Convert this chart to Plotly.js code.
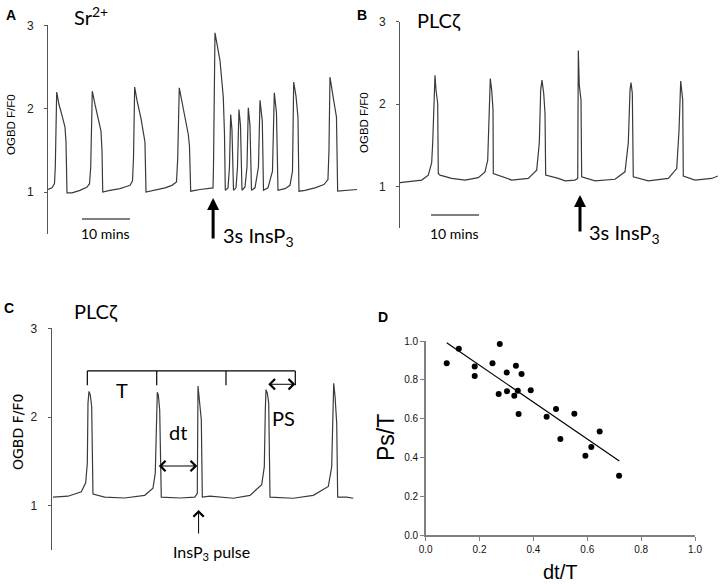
<!DOCTYPE html>
<html>
<head>
<meta charset="utf-8">
<script src="https://cdn.plot.ly/plotly-3.0.1.min.js"></script>
<style>html,body{margin:0;padding:0;background:#fff;}#chart{width:721px;height:584px;}</style>
</head>
<body>
<div id="chart"></div>
<script>
// ---------- Data (time in minutes, fluorescence as OGBD F/F0) ----------
const tA = [0,0.83,1.35,1.52,1.81,2.29,2.92,3.54,3.75,3.96,5.0,6.67,8.13,8.65,8.9,9.23,9.79,10.42,11.04,11.25,11.4,12.92,15,16.04,17.08,17.6,17.81,18.06,18.54,19.38,20,20.2,20.42,22.29,24.38,25.83,26.77,27.02,27.35,27.92,28.75,29.23,29.48,29.73,31.67,34.38,34.48,34.79,35.83,36.52,36.77,36.94,37.5,37.81,38.06,38.33,38.65,39.17,39.48,39.79,40.1,40.42,41.04,41.46,41.73,42.08,42.4,43.13,43.85,44.17,44.65,44.9,45.83,46.77,47.15,47.6,47.92,49.38,50.42,50.94,51.19,51.67,52.08,52.29,53.54,55.63,57.5,58.33,58.54,58.75,59.38,60.1,60.35,61.88,64.38];
const fA = [1.03,1.05,1.1,1.3,2.20,2.05,1.92,1.78,1.6,0.99,0.99,1.02,1.06,1.1,1.3,2.21,2.05,1.9,1.73,1.5,1.0,1.02,1.04,1.06,1.08,1.13,1.4,2.26,2.1,1.88,1.7,1.6,1.0,1.02,1.05,1.08,1.12,1.4,2.25,2.08,1.85,1.69,1.55,1.01,1.03,1.05,1.3,2.91,2.58,2.14,1.7,1.02,1.05,1.3,1.93,1.75,1.02,1.05,1.3,1.99,1.8,1.02,1.06,1.3,2.01,1.8,1.02,1.05,1.3,2.10,1.85,1.02,1.05,1.25,2.19,1.95,1.02,1.04,1.08,1.25,2.32,2.15,1.9,1.01,1.02,1.05,1.09,1.15,1.5,2.38,2.15,1.9,1.01,1.02,1.03];

const tB = [0,4.52,5.9,6.6,6.81,7.08,7.29,7.5,7.85,7.98,8.33,10.77,13.54,16.31,17.71,18.27,18.48,18.69,18.81,19.1,19.38,19.44,23.27,26.73,28.48,29.02,29.31,29.58,29.94,30.21,30.35,32.98,34.38,36.46,37.02,37.15,37.35,37.71,37.85,40.63,44.79,46.88,47.56,47.92,48.13,48.4,48.6,51.73,55.9,57.65,58.13,58.48,58.69,58.9,59.02,61.46,64.94,66.25];
const fB = [1.05,1.08,1.14,1.29,1.53,2.19,2.35,2.17,2.01,1.16,1.14,1.10,1.08,1.11,1.18,1.32,1.73,2.21,2.31,2.17,1.93,1.16,1.08,1.10,1.2,1.53,2.17,2.29,2.13,1.89,1.14,1.10,1.07,1.08,1.10,2.65,2.23,2.05,1.12,1.07,1.09,1.18,1.53,2.17,2.26,2.13,1.12,1.07,1.10,1.22,1.68,2.28,2.17,2.05,1.13,1.08,1.10,1.13];

const tC = [0.27,3.40,6.17,7.08,7.42,7.56,7.77,8.04,8.33,8.6,11.04,15.21,19.38,21.1,21.58,21.79,22.0,22.21,22.5,22.83,26.73,29.79,30.33,30.48,30.83,31.17,31.38,32.98,37.83,41.31,43.75,44.29,44.5,44.65,44.92,45.21,45.48,50.33,54.5,57.63,58.33,58.54,58.75,59.02,59.38,59.58,61.46,62.83];
const fC = [1.10,1.11,1.16,1.26,1.48,2.16,2.29,2.25,2.12,1.135,1.10,1.09,1.12,1.20,1.37,1.78,2.28,2.25,2.08,1.10,1.09,1.10,1.14,2.35,2.17,1.97,1.10,1.11,1.087,1.12,1.24,1.44,2.08,2.31,2.27,2.16,1.10,1.087,1.12,1.22,1.44,2.16,2.38,2.24,1.93,1.10,1.10,1.087];

const dtT = [0.078,0.123,0.182,0.182,0.248,0.275,0.271,0.301,0.302,0.335,0.356,0.342,0.329,0.345,0.390,0.449,0.484,0.500,0.552,0.593,0.615,0.646,0.718];
const psT = [0.885,0.960,0.868,0.820,0.885,0.985,0.727,0.837,0.741,0.873,0.830,0.744,0.718,0.624,0.746,0.610,0.649,0.495,0.625,0.409,0.454,0.533,0.306];
const fitX = [0.078,0.719];
const fitY = [0.991,0.381];

const yTicks = [1,2,3];
const dTicks = [0,0.2,0.4,0.6,0.8,1.0];

// Annotation timings (minutes)
const scaleBarA = [7.08,17.08];
const scaleBarB = [6.46,16.46];
const pulseA = 34.4;
const pulseB = 37.5;
const pulseC = 30.6;
const bracketC = [7.42,21.88,36.31,50.75];
const dtArrow = [22.0,30.33];
const psArrow = [44.8,50.75];

// ---------- Layout helpers ----------
const W = 721, H = 584;
const X = p => p / W;
const Y = p => 1 - p / H;

const traceLine = {color:'#3a3a3a', width:1.2};
const data = [
  {x:tA, y:fA, xaxis:'x', yaxis:'y', mode:'lines', line:traceLine, hoverinfo:'skip'},
  {x:tB, y:fB, xaxis:'x2', yaxis:'y2', mode:'lines', line:traceLine, hoverinfo:'skip'},
  {x:tC, y:fC, xaxis:'x3', yaxis:'y3', mode:'lines', line:traceLine, hoverinfo:'skip'},
  {x:dtT, y:psT, xaxis:'x4', yaxis:'y4', mode:'markers', marker:{color:'#000', size:6}, hoverinfo:'skip', cliponaxis:false},
  {x:fitX, y:fitY, xaxis:'x4', yaxis:'y4', mode:'lines', line:{color:'#000', width:1.2}, hoverinfo:'skip'}
];

function traceY(domain, anchor){
  return {domain:domain, anchor:anchor, range:[0.5,3], tickvals:yTicks, ticktext:yTicks.map(String),
    showline:true, linecolor:'#555', linewidth:1, ticks:'outside', ticklen:3, tickcolor:'#555',
    showgrid:false, zeroline:false, tickfont:{family:'Arial, Liberation Sans', size:12, color:'#222'},
    ticklabelstandoff:8, fixedrange:true};
}
function hiddenX(domain, anchor, range){
  return {domain:domain, anchor:anchor, range:range, visible:false, fixedrange:true};
}

const lato = 'Lato, Open Sans, sans-serif';
const ann = [];
function txt(text, x, y, size, opts){
  ann.push(Object.assign({text:text, x:X(x), y:Y(y), xref:'paper', yref:'paper', showarrow:false,
    font:{family:lato, size:size, color:'#000'}, xanchor:'center', yanchor:'middle'}, opts||{}));
}
// panel letters
const boldA = {font:{family:'Arial, Liberation Sans', size:14, color:'#000', weight:'bold'}};
txt('<b>A</b>', 11, 15, 14, boldA);
txt('<b>B</b>', 362, 15, 14, boldA);
txt('<b>C</b>', 9, 308, 14, boldA);
txt('<b>D</b>', 383, 317, 14, boldA);
// titles
txt('Sr<sup>2+</sup>', 72, 16, 20, {xanchor:'left'});
txt('PLCζ', 415, 20, 20, {xanchor:'left'});
txt('PLCζ', 72, 311, 20, {xanchor:'left'});
// y titles
const yt = (x,y,size,fam) => ann.push({text:'OGBD F/F0', x:X(x), y:Y(y), xref:'paper', yref:'paper', showarrow:false,
  textangle:-90, font:{family:fam, size:size, color:'#000'}, xanchor:'center', yanchor:'middle'});
yt(11, 125, 11.5, 'Arial, Liberation Sans');
yt(364, 123, 11.5, 'Arial, Liberation Sans');
yt(18, 432, 14, 'DejaVu Sans');
// scale bar labels
txt('10 mins', 105, 234, 14);
txt('10 mins', 454, 234, 14);
// InsP3 labels
txt('3s InsP<sub>3</sub>', 221, 236, 20, {xanchor:'left'});
txt('3s InsP<sub>3</sub>', 587, 234, 20, {xanchor:'left'});
txt('InsP<sub>3</sub> pulse', 211, 552, 16);
// C labels
txt('T', 122, 390, 20);
txt('dt', 178, 432, 20);
txt('PS', 283, 418, 20);
// D axis titles
ann.push({text:'Ps/T', x:X(386), y:Y(438), xref:'paper', yref:'paper', showarrow:false, textangle:-90,
  font:{family:'Arial, Liberation Sans', size:23, color:'#000'}, xanchor:'center', yanchor:'middle'});
txt('dt/T', 560, 572, 20, {font:{family:'Arial, Liberation Sans', size:20, color:'#000'}});

// arrows
ann.push({x:pulseA, xref:'x', y:Y(198), yref:'paper', ax:0, ay:42, text:'', showarrow:true,
  arrowhead:2, arrowsize:0.8, arrowwidth:3, arrowcolor:'#000', standoff:0});
ann.push({x:pulseB, xref:'x2', y:Y(195), yref:'paper', ax:0, ay:38, text:'', showarrow:true,
  arrowhead:2, arrowsize:0.8, arrowwidth:3, arrowcolor:'#000', standoff:0});
ann.push({x:pulseC, xref:'x3', y:Y(510), yref:'paper', ax:0, ay:25, text:'', showarrow:true,
  arrowhead:4, arrowsize:2, arrowwidth:1, arrowcolor:'#000', standoff:0});
ann.push({x:dtArrow[1], y:1.45, ax:dtArrow[0], ay:1.45, xref:'x3', yref:'y3', axref:'x3', ayref:'y3', text:'',
  showarrow:true, arrowside:'end+start', arrowhead:4, arrowsize:2, arrowwidth:1, arrowcolor:'#000', standoff:0, startstandoff:0});
ann.push({x:psArrow[1], y:2.37, ax:psArrow[0], ay:2.37, xref:'x3', yref:'y3', axref:'x3', ayref:'y3', text:'',
  showarrow:true, arrowside:'end+start', arrowhead:4, arrowsize:2, arrowwidth:1, arrowcolor:'#000', standoff:0, startstandoff:0});

// shapes: scale bars + bracket
const shapes = [
  {type:'line', xref:'x', yref:'y', x0:scaleBarA[0], x1:scaleBarA[1], y0:0.676, y1:0.676, line:{color:'#555', width:1.5}},
  {type:'line', xref:'x2', yref:'y2', x0:scaleBarB[0], x1:scaleBarB[1], y0:0.657, y1:0.657, line:{color:'#555', width:1.5}},
  {type:'line', xref:'x3', yref:'y3', x0:bracketC[0], x1:bracketC[bracketC.length-1], y0:2.52, y1:2.52, line:{color:'#000', width:1.2}}
];
bracketC.forEach(t => shapes.push({type:'line', xref:'x3', yref:'y3', x0:t, x1:t, y0:2.52, y1:2.36, line:{color:'#000', width:1.2}}));

const dAxis = (domain, anchor) => ({domain:domain, anchor:anchor, range:[0,1], tickvals:dTicks, tickformat:'.1f',
  showline:true, linecolor:'#808080', linewidth:1.5, ticks:'outside', ticklen:4, tickcolor:'#808080',
  showgrid:false, zeroline:false, tickfont:{family:'Arial, Liberation Sans', size:10, color:'#111'}, fixedrange:true});

const layout = {
  width:W, height:H, margin:{l:0,r:0,t:0,b:0}, paper_bgcolor:'#fff', plot_bgcolor:'rgba(0,0,0,0)',
  showlegend:false,
  xaxis: hiddenX([X(48), X(357)], 'y', [0, 64.38]),
  yaxis: traceY([Y(233.7), Y(25.3)], 'x'),
  xaxis2: hiddenX([X(400), X(718)], 'y2', [0, 66.25]),
  yaxis2: traceY([Y(228), Y(21.5)], 'x2'),
  xaxis3: hiddenX([X(51.7), X(354)], 'y3', [0, 62.98]),
  yaxis3: traceY([Y(550.4), Y(328.3)], 'x3'),
  xaxis4: dAxis([X(425.7), X(695)], 'y4'),
  yaxis4: dAxis([Y(535), Y(341)], 'x4'),
  annotations: ann,
  shapes: shapes
};

Plotly.newPlot('chart', data, layout, {staticPlot:true, displayModeBar:false});
</script>
</body>
</html>
